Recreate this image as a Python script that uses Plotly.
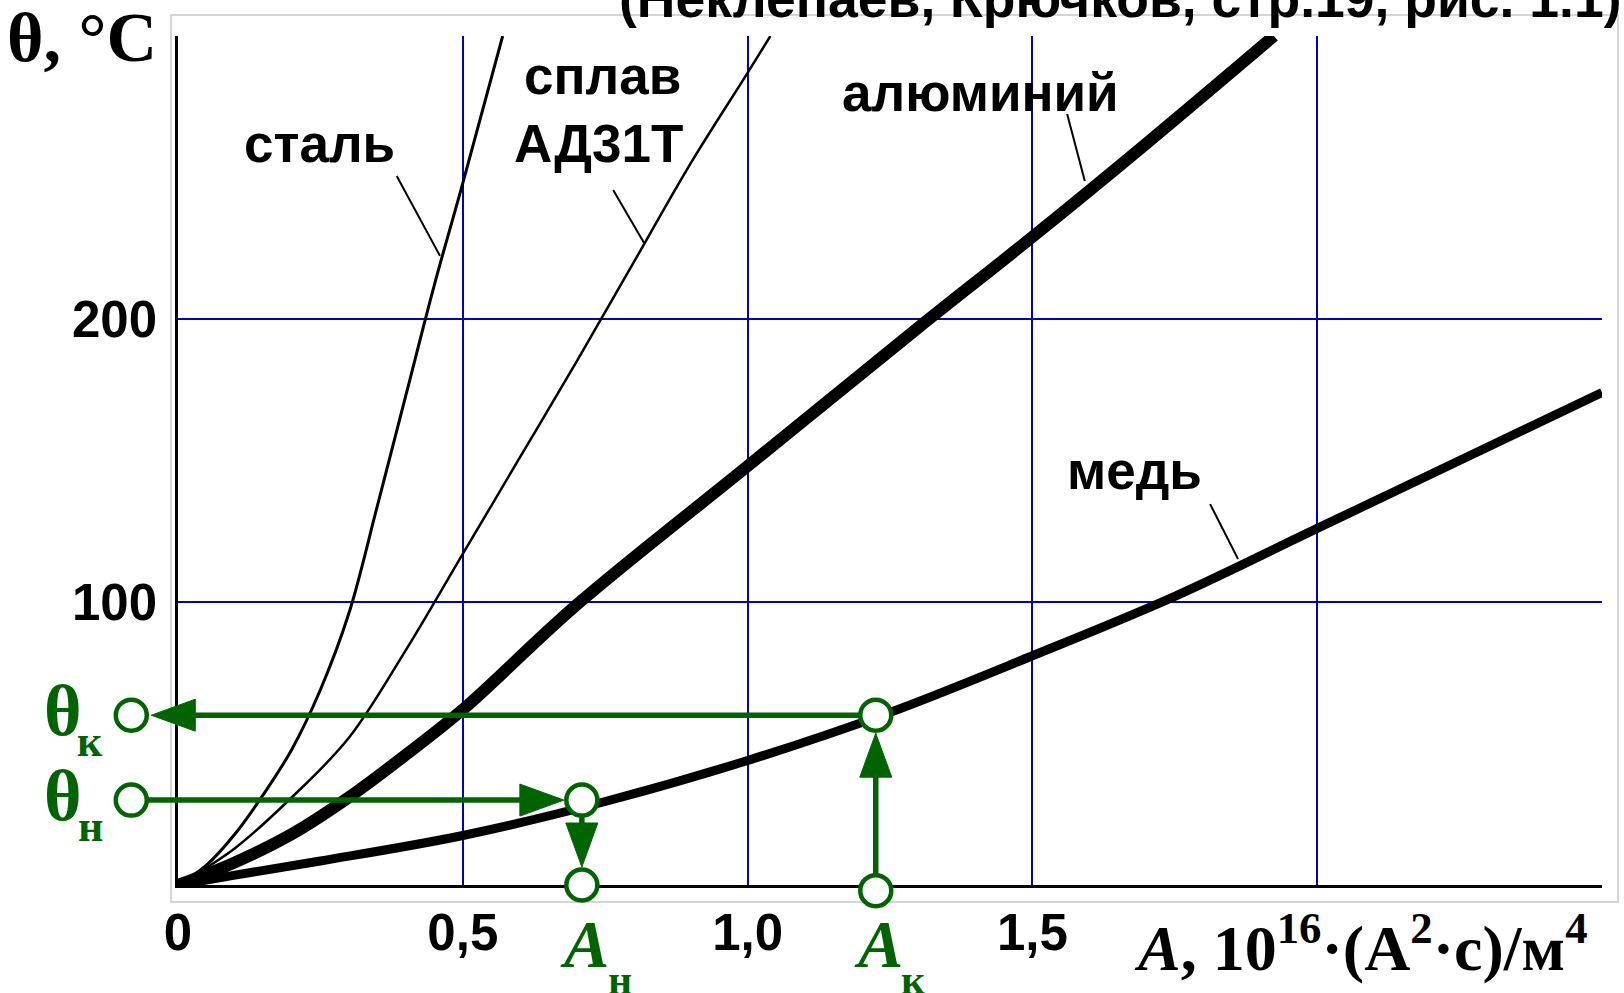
import math
import plotly.graph_objects as go

# ---------------- data ----------------
steel_A = [0, 0.05, 0.10, 0.15, 0.20, 0.25, 0.30, 0.35, 0.40, 0.45, 0.50, 0.57]
steel_T = [0, 7, 18, 32, 48, 69, 96, 134, 173, 212, 248, 300]

alloy_A = [0, 0.10, 0.20, 0.30, 0.40, 0.50, 0.60, 0.70, 0.80, 0.90, 1.00, 1.04]
alloy_T = [0, 13, 31, 52, 83, 117, 151, 185, 220, 255, 287, 300]

alum_A = [0, 0.10, 0.20, 0.30, 0.40, 0.50, 0.70, 1.00, 1.30, 1.50, 1.70, 1.924]
alum_T = [0, 8, 18, 31, 46, 62, 99, 148, 197, 229, 262, 300]

copper_A = [0, 0.10, 0.25, 0.50, 0.75, 1.00, 1.25, 1.50, 1.75, 2.00, 2.25, 2.50]
copper_T = [0, 3.5, 8.5, 17.5, 29.5, 44, 61, 81, 102, 126, 150, 174]

x_tick_vals = [0, 0.5, 1.0, 1.5, 2.0, 2.5]
x_tick_text = ["0", "0,5", "1,0", "1,5", "", ""]
y_tick_vals = [0, 100, 200, 300]
y_tick_text = ["", "100", "200", ""]

# worked example on the copper curve
theta_n, theta_k = 30, 60          # θн, θк
A_n, A_k = 0.709, 1.225            # Aн, Aк
theta_marker_A = -0.082            # circles on the θ side (left of the axis)
A_marker_theta = [0, -2]           # circles on the A side (Aн, Aк)

title_text = "(Неклепаев, Крючков, стр.19, рис. 1.1)"

# ---------------- geometry / styles ----------------
W, H = 1624, 993
PL, PR, PT, PB = 178, 1602, 36, 885
XR, YR = [0, 2.5], [0, 300]
ppx = (PR - PL) / (XR[1] - XR[0])
ppy = (PB - PT) / (YR[1] - YR[0])
x2r = [XR[0] - PL / ppx, XR[1] + (W - PR) / ppx]
y2r = [YR[0] - (H - PB) / ppy, YR[1] + PT / ppy]

GREEN = "#006400"
BLUE = "#0000c8"
SANS = "Liberation Sans, Arial, sans-serif"
SERIF = "Liberation Serif, Times New Roman, serif"

fig = go.Figure()

# material curves
for xs, ys, w in [(steel_A, steel_T, 3), (alloy_A, alloy_T, 2.5),
                  (alum_A, alum_T, 12), (copper_A, copper_T, 9)]:
    fig.add_trace(go.Scatter(x=xs, y=ys, mode="lines",
                             line=dict(color="black", width=w, shape="spline", smoothing=1.0),
                             hoverinfo="skip", showlegend=False))

# label pointer lines
pointers = [
    [(0.384, 250.5), (0.460, 222.3)],
    [(0.764, 245.6), (0.818, 226.9)],
    [(1.561, 272.4), (1.592, 248.8)],
    [(1.812, 134.6), (1.861, 115.2)],
]
for p in pointers:
    fig.add_trace(go.Scatter(x=[p[0][0], p[1][0]], y=[p[0][1], p[1][1]], mode="lines",
                             line=dict(color="black", width=2), hoverinfo="skip", showlegend=False))

# ---------------- green construction on an overlay subplot spanning the figure ----------------
def arrow(x0, y0, x1, y1, standoff=18, hl=44, hw=32):
    dxp, dyp = (x1 - x0) * ppx, (y1 - y0) * ppy
    d = math.hypot(dxp, dyp)
    ux, uy = dxp / d, dyp / d
    tx, ty = x1 - ux * standoff / ppx, y1 - uy * standoff / ppy
    bx, by = tx - ux * hl / ppx, ty - uy * hl / ppy
    px, py = -uy, ux
    c1 = (bx + px * hw / 2 / ppx, by + py * hw / 2 / ppy)
    c2 = (bx - px * hw / 2 / ppx, by - py * hw / 2 / ppy)
    lx, ly = bx + ux * 4 / ppx, by + uy * 4 / ppy
    fig.add_trace(go.Scatter(x=[x0, lx], y=[y0, ly], mode="lines", line=dict(color=GREEN, width=5.5),
                             xaxis="x2", yaxis="y2", hoverinfo="skip", showlegend=False))
    fig.add_trace(go.Scatter(x=[tx, c1[0], c2[0], tx], y=[ty, c1[1], c2[1], ty], mode="lines",
                             fill="toself", fillcolor=GREEN, line=dict(color=GREEN, width=1),
                             xaxis="x2", yaxis="y2", hoverinfo="skip", showlegend=False))

arrow(theta_marker_A, theta_n, A_n, theta_n)
arrow(A_n, theta_n, A_n, A_marker_theta[0])
arrow(A_k, A_marker_theta[1], A_k, theta_k)
arrow(A_k, theta_k, theta_marker_A, theta_k, standoff=20)

fig.add_trace(go.Scatter(
    x=[theta_marker_A, theta_marker_A, A_n, A_n, A_k, A_k],
    y=[theta_n, theta_k, theta_n, A_marker_theta[0], theta_k, A_marker_theta[1]],
    mode="markers", marker=dict(symbol="circle", size=31, color="white", line=dict(color=GREEN, width=4.5)),
    xaxis="x2", yaxis="y2", hoverinfo="skip", showlegend=False, cliponaxis=False))

# ---------------- annotations ----------------
ann = []
def lab(text, x, y, size, ref=("x", "y"), color="black", family=SANS, bold=True, **kw):
    d = dict(text=text, x=x, y=y, xref=ref[0], yref=ref[1], showarrow=False,
             font=dict(family=family, size=size, color=color, weight="bold" if bold else "normal"))
    d.update(kw)
    ann.append(d)

lab("сталь", 0.249, 262, 53)
lab("сплав", 0.746, 286, 53)
lab("АД31Т", 0.739, 262, 53)
lab("алюминий", 1.408, 280, 53)
lab("медь", 1.680, 146.6, 53)

# θ labels
for th, sub in [(theta_k, "к"), (theta_n, "н")]:
    lab("θ", theta_marker_A, th, 72, ref=("x2", "y2"), color=GREEN, family=SERIF, xshift=-68, yshift=4)
    lab(sub, theta_marker_A, th, 44, ref=("x2", "y2"), color=GREEN, family=SERIF, xshift=-41, yshift=-26)
for a, sub in [(A_n, "н"), (A_k, "к")]:
    lab("<i>A</i>", a, 0, 68, ref=("x2", "y2"), color=GREEN, family=SERIF, xshift=3, yshift=-59)
    lab(sub, a, 0, 42, ref=("x2", "y2"), color=GREEN, family=SERIF, xshift=38, yshift=-95)

# axis titles
lab("θ, °C", 159 / W, 1 - 38 / H, 70, ref=("paper", "paper"), family=SERIF, xanchor="right", yanchor="middle")
lab("<i>A</i>, 10<sup>16</sup>·(А<sup>2</sup>·с)/м<sup>4</sup>", 1590 / W, 1 - 943 / H, 64,
    ref=("paper", "paper"), family=SERIF, xanchor="right", yanchor="middle")
# source note at the top
lab(title_text, 1624 / W, 1 + 1 / H, 53.5, ref=("paper", "paper"), xanchor="right", yanchor="middle")

# grey outer frame
shapes = [dict(type="rect", xref="paper", yref="paper", x0=171 / W, x1=1618 / W, y0=1 - 902 / H, y1=1 - 15 / H,
               line=dict(color="#c8c8c8", width=1.5), layer="below")]

fig.update_layout(
    width=W, height=H, margin=dict(l=0, r=0, t=0, b=0, autoexpand=False),
    paper_bgcolor="white", plot_bgcolor="rgba(0,0,0,0)", showlegend=False,
    annotations=ann, shapes=shapes,
    xaxis=dict(domain=[PL / W, PR / W], range=XR, tickvals=x_tick_vals, ticktext=x_tick_text,
               showgrid=True, gridcolor=BLUE, gridwidth=2, zeroline=False, automargin=False,
               showline=True, linecolor="black", linewidth=3, ticks="", ticklabelstandoff=1,
               tickfont=dict(family=SANS, size=51, color="black", weight="bold")),
    yaxis=dict(domain=[1 - PB / H, 1 - PT / H], range=YR, tickvals=y_tick_vals, ticktext=y_tick_text,
               showgrid=True, gridcolor=BLUE, gridwidth=2, zeroline=False, automargin=False,
               showline=True, linecolor="black", linewidth=2.5, ticks="", ticklabelstandoff=8,
               tickfont=dict(family=SANS, size=51, color="black", weight="bold")),
    xaxis2=dict(domain=[0, 1], range=x2r, visible=False, anchor="y2", automargin=False),
    yaxis2=dict(domain=[0, 1], range=y2r, visible=False, anchor="x2", automargin=False),
)

fig.write_html("out.html", config={"displayModeBar": False},
               post_script="document.body.style.margin='0px';document.body.style.overflow='hidden';")
